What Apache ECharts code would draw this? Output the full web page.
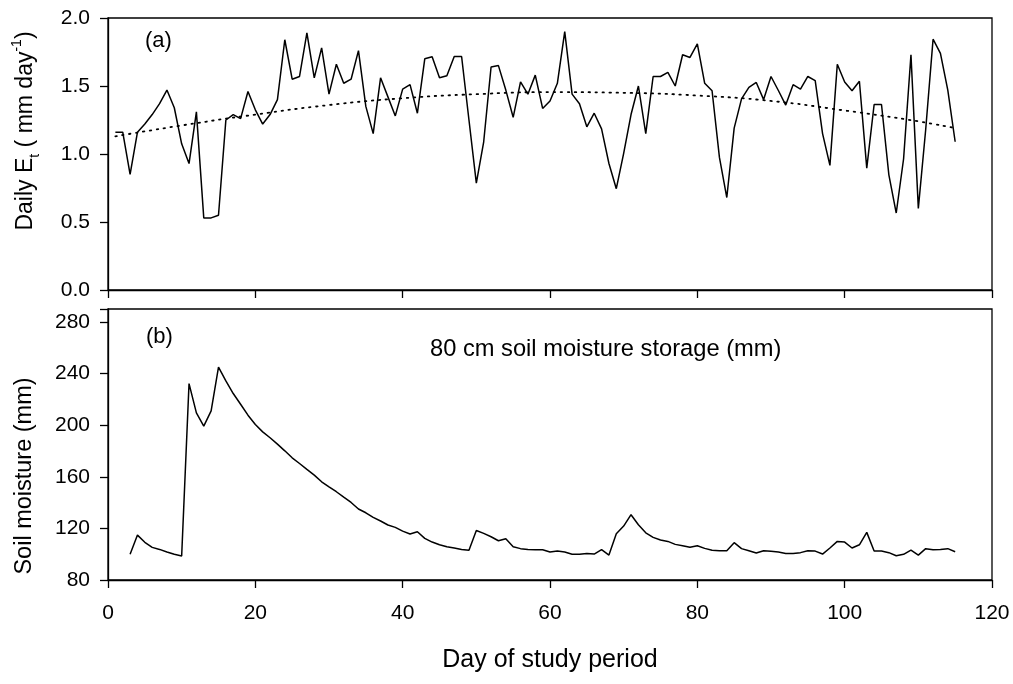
<!DOCTYPE html>
<html>
<head>
<meta charset="utf-8">
<script src="https://cdn.jsdelivr.net/npm/echarts@6/dist/echarts.min.js"></script>
<style>
html,body{margin:0;padding:0;background:#fff;}
#chart{width:1013px;height:684px;}
</style>
</head>
<body>
<div id="chart"></div>
<script>
// ---- Data ----
const xTicks = [0, 20, 40, 60, 80, 100, 120];
const etFirstDay = 1;
const etValues = [1.16,1.16,0.85,1.16,1.22,1.29,1.37,1.47,1.34,1.075,
  0.93,1.31,0.53,0.53,0.55,1.25,1.29,1.26,1.46,1.325,
  1.22,1.29,1.40,1.84,1.55,1.57,1.89,1.56,1.78,1.44,
  1.66,1.52,1.55,1.76,1.35,1.15,1.56,1.42,1.28,1.477,
  1.51,1.30,1.70,1.715,1.56,1.575,1.717,1.717,1.25,0.786,
  1.09,1.64,1.65,1.47,1.27,1.53,1.44,1.58,1.335,1.39,
  1.52,1.90,1.44,1.37,1.20,1.30,1.185,0.93,0.745,1.005,
  1.29,1.50,1.15,1.57,1.57,1.60,1.50,1.73,1.71,1.81,
  1.52,1.465,0.975,0.68,1.19,1.405,1.49,1.526,1.40,1.57,
  1.467,1.36,1.51,1.477,1.57,1.54,1.15,0.916,1.66,1.53,
  1.465,1.535,0.896,1.364,1.364,0.847,0.566,0.965,1.73,0.60,
  1.18,1.844,1.74,1.47,1.09];
const trendDays = [1,10,20,30,40,50,60,70,80,90,100,110,115];
const trendValues = [1.13,1.21,1.29,1.36,1.41,1.44,1.455,1.45,1.43,1.39,1.32,1.24,1.19];
const soilFirstDay = 3;
const soilValues = [100,114.8,109.2,105.3,103.7,101.7,99.9,98.6,
  232.2,209.5,199.2,211,245,234.3,224.5,216.2,207.7,200.5,
  194.8,190.2,185.3,180.1,174.7,170.3,165.7,161.3,156.1,152.2,
  148.4,144.2,140.1,135,132.1,128.5,125.7,122.6,120.8,117.9,
  115.6,117.4,112.3,109.4,107.3,105.8,104.8,103.7,103,118.4,
  116.1,113.5,110.4,112,105.8,104.3,103.7,103.5,103.5,101.7,
  102.4,101.7,99.9,99.9,100.6,100.1,103.5,99.3,115.9,121.8,
  130.6,122.8,116.6,113,111,109.9,107.6,106.6,105.3,106.6,
  104.5,103,102.7,102.7,108.9,104.3,102.7,100.9,102.7,102.2,
  101.7,100.6,100.6,101.2,102.7,102.4,100.1,104.8,109.9,109.4,
  104.8,107.3,116.9,102.4,102.4,101.2,98.8,99.9,103.2,99.3,
  104.3,103.5,103.7,104.3,101.9];

// ---- Build ----
const etData = etValues.map((v, i) => [etFirstDay + i, v]);
const trendData = trendDays.map((d, i) => [d, trendValues[i]]);
const soilData = soilValues.map((v, i) => [soilFirstDay + i, v]);

const FONT = 'Liberation Sans, Arial, sans-serif';
const black = '#000';

const chart = echarts.init(document.getElementById('chart'), null, {renderer: 'canvas'});
const axisLineS = {show: true, lineStyle: {color: black, width: 1.3}};
const tickS = {show: true, inside: false, length: 8, lineStyle: {color: black, width: 1.3}};

chart.setOption({
  animation: false,
  backgroundColor: '#fff',
  textStyle: {fontFamily: FONT, color: black},
  grid: [
    {left: 108, top: 18, width: 884, height: 272, show: true, borderColor: black, borderWidth: 1.3, backgroundColor: 'transparent'},
    {left: 108, top: 309, width: 884, height: 271, show: true, borderColor: black, borderWidth: 1.3, backgroundColor: 'transparent'}
  ],
  xAxis: [
    {gridIndex: 0, type: 'value', min: xTicks[0], max: xTicks[xTicks.length-1], interval: 20,
     axisLine: axisLineS, axisTick: tickS, axisLabel: {show: false}, splitLine: {show: false}},
    {gridIndex: 1, type: 'value', min: xTicks[0], max: xTicks[xTicks.length-1], interval: 20,
     axisLine: axisLineS, axisTick: tickS,
     axisLabel: {show: true, color: black, fontSize: 21, margin: 23, fontFamily: FONT},
     splitLine: {show: false},
     name: 'Day of study period', nameLocation: 'middle', nameGap: 68,
     nameTextStyle: {fontSize: 25, color: black, fontFamily: FONT}}
  ],
  yAxis: [
    {gridIndex: 0, type: 'value', min: 0, max: 2, interval: 0.5,
     axisLine: axisLineS, axisTick: tickS,
     axisLabel: {color: black, fontSize: 21, margin: 18, fontFamily: FONT, formatter: v => v.toFixed(1)},
     splitLine: {show: false}},
    {gridIndex: 1, type: 'value', min: 80, max: 290, interval: 40,
     axisLine: axisLineS, axisTick: tickS,
     axisLabel: {color: black, fontSize: 21, margin: 18, fontFamily: FONT, formatter: v => (v > 280 ? '' : String(v))},
     splitLine: {show: false}}
  ],
  series: [
    {type: 'line', xAxisIndex: 0, yAxisIndex: 0, data: etData, symbol: 'none',
     lineStyle: {color: black, width: 1.5}, z: 3},
    {type: 'line', xAxisIndex: 0, yAxisIndex: 0, data: trendData, symbol: 'none', smooth: true,
     lineStyle: {color: black, width: 1.8, type: [1.5, 5.5], cap: 'round'}, z: 2},
    {type: 'line', xAxisIndex: 1, yAxisIndex: 1, data: soilData, symbol: 'none',
     lineStyle: {color: black, width: 1.5}, z: 3}
  ],
  graphic: [
    {type: 'text', x: 26, y: 131, rotation: Math.PI / 2,
     style: {text: '{n|Daily E}{sub|t}{n| ( mm day}{sup|-1}{n|)}', align: 'center', verticalAlign: 'middle',
       rich: {
         n: {fontSize: 23, fontFamily: FONT, fill: black, lineHeight: 32, verticalAlign: 'middle'},
         sub: {fontSize: 14, fontFamily: FONT, fill: black, lineHeight: 15, verticalAlign: 'bottom'},
         sup: {fontSize: 14, fontFamily: FONT, fill: black, lineHeight: 15, verticalAlign: 'top'}
       }}},
    {type: 'text', x: 25, y: 476, rotation: Math.PI / 2,
     style: {text: 'Soil moisture (mm)', align: 'center', verticalAlign: 'middle', fontSize: 23.5, fontFamily: FONT, fill: black}},
    {type: 'text', left: 145, top: 30, style: {text: '(a)', fontSize: 22, fontFamily: FONT, fill: black}},
    {type: 'text', left: 146, top: 326, style: {text: '(b)', fontSize: 22, fontFamily: FONT, fill: black}},
    {type: 'text', left: 430, top: 337, style: {text: '80 cm soil moisture storage (mm)', fontSize: 23.7, fontFamily: FONT, fill: black}}
  ]
});
</script>
</body>
</html>
